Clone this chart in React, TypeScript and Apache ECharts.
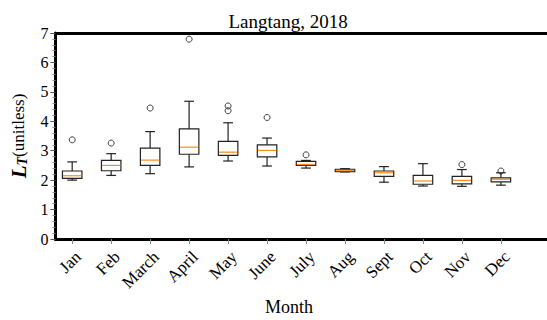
import React, { useEffect, useRef } from "react";
import * as echarts from "echarts";

const months = ["Jan", "Feb", "March", "April", "May", "June", "July", "Aug", "Sept", "Oct", "Nov", "Dec"];
const positions = [1, 2, 3, 4, 5, 6, 7, 8, 9, 10, 11, 12];
const whiskerLow = [2.0, 2.16, 2.22, 2.45, 2.65, 2.48, 2.41, 2.28, 1.93, 1.8, 1.79, 1.83];
const q1 = [2.06, 2.32, 2.5, 2.88, 2.84, 2.79, 2.5, 2.29, 2.13, 1.86, 1.87, 1.94];
const median = [2.15, 2.5, 2.68, 3.12, 2.95, 3.01, 2.53, 2.32, 2.25, 1.97, 1.99, 2.03];
const q3 = [2.31, 2.67, 3.09, 3.74, 3.32, 3.2, 2.64, 2.37, 2.31, 2.16, 2.13, 2.08];
const whiskerHigh = [2.62, 2.9, 3.65, 4.68, 3.95, 3.43, 2.67, 2.39, 2.46, 2.56, 2.36, 2.25];
const outliers: [number, number][] = [
  [1, 3.37],
  [2, 3.26],
  [3, 4.45],
  [4, 6.79],
  [5, 4.52],
  [5, 4.36],
  [6, 4.13],
  [7, 2.86],
  [11, 2.53],
  [12, 2.31],
];
const yTicks = [0, 1, 2, 3, 4, 5, 6, 7];

const SERIF = "'Liberation Serif', 'Times New Roman', serif";

export default function App() {
  const ref = useRef<HTMLDivElement>(null);
  useEffect(() => {
    if (!ref.current) return;
    const chart = echarts.init(ref.current, undefined, { renderer: "svg" });
    const boxData = positions.map((p, i) => [p, whiskerLow[i], q1[i], median[i], q3[i], whiskerHigh[i]]);
    const xMin = 0.569;
    const xMax = 13.183;
    const option: any = {
      animation: false,
      grid: { left: 55, top: 33, right: -5, bottom: 81 },
      xAxis: [
        {
          type: "value",
          min: xMin,
          max: xMax,
          splitLine: { show: false },
          axisLine: { show: true, onZero: false, lineStyle: { color: "#000", width: 3 } },
          axisTick: {
            show: true,
            customValues: positions,
            length: 5,
            lineStyle: { color: "#888", width: 1 },
          },
          axisLabel: {
            customValues: positions,
            rotate: 45,
            margin: 9,
            verticalAlign: "top",
            fontSize: 17,
            fontFamily: SERIF,
            color: "#000",
            formatter: (v: number) => months[Math.round(v) - 1] ?? "",
          },
        },
        {
          type: "value",
          position: "top",
          min: xMin,
          max: xMax,
          splitLine: { show: false },
          axisLine: { show: true, onZero: false, lineStyle: { color: "#000", width: 3 } },
          axisTick: { show: false },
          axisLabel: { show: false },
        },
      ],
      yAxis: {
        type: "value",
        min: yTicks[0],
        max: yTicks[yTicks.length - 1],
        interval: 1,
        splitLine: { show: false },
        axisLine: { show: true, lineStyle: { color: "#000", width: 3 } },
        axisTick: { show: true, length: 5, lineStyle: { color: "#555", width: 1 } },
        minorTick: { show: true, splitNumber: 5, length: 3, lineStyle: { color: "#888", width: 1 } },
        axisLabel: { fontSize: 16, fontFamily: SERIF, color: "#000", margin: 7 },
        name: "{L|L}{T|T}{u|(unitless)}",
        nameLocation: "middle",
        nameRotate: 90,
        nameGap: 18,
        nameTextStyle: {
          rich: {
            L: { fontSize: 21, fontWeight: "bold", fontStyle: "italic", fontFamily: SERIF, color: "#000" },
            T: {
              fontSize: 14,
              fontWeight: "bold",
              fontStyle: "italic",
              fontFamily: SERIF,
              color: "#000",
              verticalAlign: "bottom",
              padding: [8, 0, 0, 0],
            },
            u: { fontSize: 17, fontFamily: SERIF, color: "#000" },
          },
        },
      },
      graphic: [
        {
          type: "text",
          x: 288,
          y: 21,
          style: {
            text: "Langtang, 2018",
            fontSize: 19,
            fontFamily: SERIF,
            fill: "#000",
            textAlign: "center",
            textVerticalAlign: "middle",
          },
        },
        {
          type: "text",
          x: 289,
          y: 307,
          style: {
            text: "Month",
            fontSize: 18,
            fontFamily: SERIF,
            fill: "#000",
            textAlign: "center",
            textVerticalAlign: "middle",
          },
        },
      ],
      series: [
        {
          type: "custom",
          xAxisIndex: 0,
          yAxisIndex: 0,
          data: boxData,
          encode: { x: 0, y: [1, 2, 3, 4, 5] },
          renderItem: (params: any, api: any) => {
            const x = api.value(0);
            const pLow = api.coord([x, api.value(1)]);
            const pQ1 = api.coord([x, api.value(2)]);
            const pMed = api.coord([x, api.value(3)]);
            const pQ3 = api.coord([x, api.value(4)]);
            const pHigh = api.coord([x, api.value(5)]);
            const bl = api.coord([x - 0.25, 0])[0];
            const br = api.coord([x + 0.25, 0])[0];
            const cl = api.coord([x - 0.125, 0])[0];
            const cr = api.coord([x + 0.125, 0])[0];
            const cx = pMed[0];
            const stroke = { stroke: "#222", lineWidth: 1.2, fill: null };
            return {
              type: "group",
              children: [
                { type: "line", shape: { x1: cx, y1: pLow[1], x2: cx, y2: pQ1[1] }, style: stroke },
                { type: "line", shape: { x1: cx, y1: pQ3[1], x2: cx, y2: pHigh[1] }, style: stroke },
                { type: "line", shape: { x1: cl, y1: pLow[1], x2: cr, y2: pLow[1] }, style: stroke },
                { type: "line", shape: { x1: cl, y1: pHigh[1], x2: cr, y2: pHigh[1] }, style: stroke },
                {
                  type: "rect",
                  shape: { x: bl, y: pQ3[1], width: br - bl, height: pQ1[1] - pQ3[1] },
                  style: { fill: "#fff", stroke: "#222", lineWidth: 1.2 },
                },
                {
                  type: "line",
                  shape: { x1: bl + 0.6, y1: pMed[1], x2: br - 0.6, y2: pMed[1] },
                  style: { stroke: "#ff8c1a", lineWidth: 1.2 },
                },
              ],
            };
          },
        },
        {
          type: "scatter",
          xAxisIndex: 0,
          yAxisIndex: 0,
          data: outliers,
          symbol: "circle",
          symbolSize: 6,
          itemStyle: { color: "rgba(0,0,0,0)", borderColor: "#111", borderWidth: 1 },
        },
      ],
    };
    chart.setOption(option);
    return () => chart.dispose();
  }, []);
  return (
    <div
      ref={ref}
      style={{ position: "absolute", left: 0, top: 0, width: 547, height: 320, background: "#fff" }}
    />
  );
}
